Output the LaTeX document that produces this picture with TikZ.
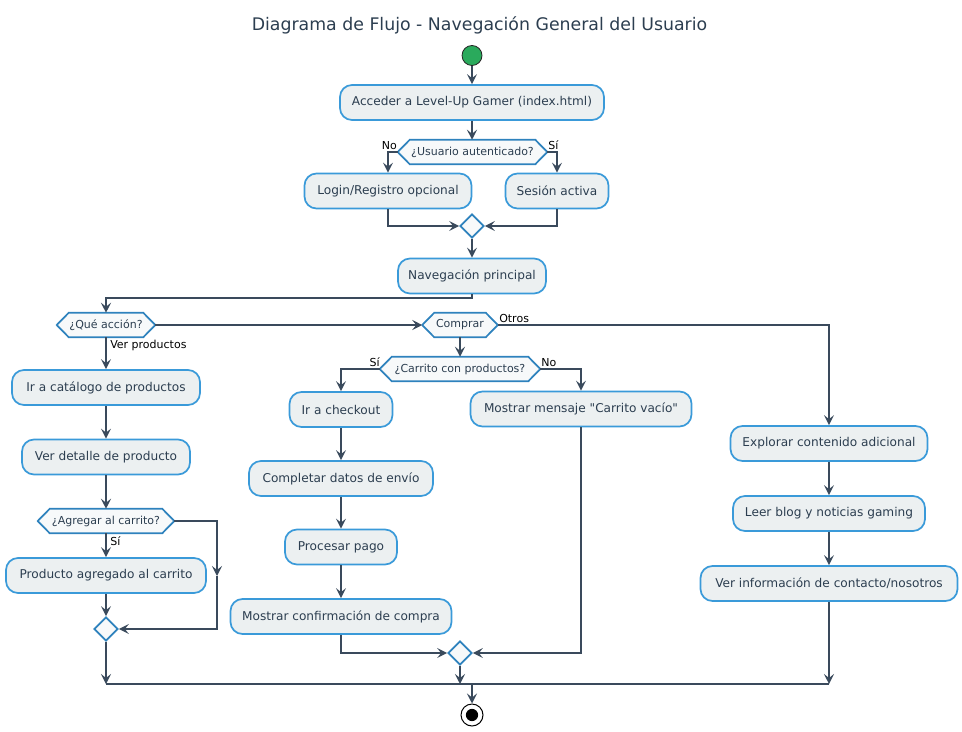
\documentclass[tikz,border=0pt]{standalone}
\usepackage{fontspec}
\setmainfont{DejaVu Sans}
\newfontfamily\qfont{DejaVu Sans}
\usetikzlibrary{arrows.meta,shapes.geometric,calc,backgrounds}
\definecolor{boxfill}{HTML}{ECF0F1}
\definecolor{boxline}{HTML}{3A9AD9}
\definecolor{hexline}{HTML}{2E82BD}
\definecolor{hexfill}{HTML}{F7F9FA}
\definecolor{txt}{HTML}{2C3E50}
\definecolor{arrline}{HTML}{3A4A5C}
\definecolor{startg}{HTML}{2AAA5C}
\begin{document}
\begin{tikzpicture}[x=0.75pt,y=-0.75pt,
  act/.style={draw=boxline, fill=boxfill, line width=1.3pt, rounded corners=9pt,
    minimum height=35*0.75pt, minimum width=#1*0.75pt, inner xsep=2pt, inner ysep=0pt,
    text=txt, font=\fontsize{9.1}{11}\selectfont},
  hexnode/.style={minimum height=24*0.75pt, minimum width=#1*0.75pt, inner sep=0pt,
    text=txt, font=\fontsize{8.25}{10}\selectfont},
  hexshape/.style={draw=hexline, fill=hexfill, line width=1.3pt, line join=miter},
  merge/.style={diamond, draw=hexline, fill=hexfill, line width=1.3pt, aspect=1,
    minimum width=24*0.75pt, minimum height=24*0.75pt, inner sep=0pt},
  lbl/.style={font=\fontsize{8.25}{10}\selectfont, text=black, inner sep=0pt},
  conn/.style={draw=arrline, line width=1.5pt},
  arr/.style={conn, -{Stealth[length=7.5pt,width=7.5pt,inset=3pt]}}
]
\useasboundingbox (0,0) rectangle (962,731);

% title
\node[anchor=base, text=txt, font=\fontsize{13}{15}\selectfont] (title) at (479.5,31)
  {Diagrama de Flujo - Navegación General del Usuario};

% start / end
\node[circle, draw=black!85, fill=startg, minimum size=20*0.75pt, inner sep=0pt, line width=0.6pt] (start) at (472,55.5) {};
\node[circle, draw=black, fill=white, minimum size=22*0.75pt, inner sep=0pt, line width=0.75pt,
  path picture={\fill[black] (path picture bounding box.center) circle (4.6pt);}] (end) at (472,715) {};

% top part
\node[act=264] (acc) at (472,102.5) {Acceder a Level-Up Gamer (index.html)};
\node[hexnode=149] (qauth) at (472.5,152) {¿Usuario autenticado?};
\node[act=167] (login) at (388,191) {Login/Registro opcional};
\node[act=103] (sesion) at (557,191) {Sesión activa};
\node[merge] (m1) at (472,226) {};
\node[act=148] (nav) at (472,276) {Navegación principal};

% decisions row
\node[hexnode=98] (qacc) at (106,325) {¿Qué acción?};
\node[hexnode=75] (comp) at (460,325) {Comprar};
\node[hexnode=160] (qcart) at (460,369) {¿Carrito con productos?};

% left column
\node[act=188] (cat) at (106,387.5) {Ir a catálogo de productos};
\node[act=168] (det) at (106,457) {Ver detalle de producto};
\node[hexnode=136] (qadd) at (106,521) {¿Agregar al carrito?};
\node[act=200] (prodag) at (106,575.5) {Producto agregado al carrito};
\node[merge] (m2) at (106,629) {};

% middle column
\node[act=103] (check) at (341,409.5) {Ir a checkout};
\node[act=184] (compl) at (341,478.5) {Completar datos de envío};
\node[act=112] (pago) at (341,547) {Procesar pago};
\node[act=221] (conf) at (341,616.5) {Mostrar confirmación de compra};
\node[act=221] (msg) at (581,409) {Mostrar mensaje {\qfont\symbol{34}}Carrito vacío{\qfont\symbol{34}}};
\node[merge] (m3) at (460,653) {};

% right column
\node[act=197] (expl) at (829,443.5) {Explorar contenido adicional};
\node[act=192] (blog) at (829,513.5) {Leer blog y noticias gaming};
\node[act=257] (info) at (829,583.5) {Ver información de contacto/nosotros};

% hexagon outlines
\begin{scope}[on background layer]
\foreach \n in {qauth,qacc,comp,qcart,qadd}{
  \filldraw[hexshape] (\n.west) -- ($(\n.north west)+(12,0)$) -- ($(\n.north east)+(-12,0)$)
    -- (\n.east) -- ($(\n.south east)+(-12,0)$) -- ($(\n.south west)+(12,0)$) -- cycle;
}
\end{scope}

% labels
\node[lbl, anchor=base east] (lno1) at (397,150) {No};
\node[lbl, anchor=base west] (lsi1) at (548,150) {Sí};
\node[lbl, anchor=base west] (lver) at (110,348) {Ver productos};
\node[lbl, anchor=base west] (lotr) at (499,322) {Otros};
\node[lbl, anchor=base east] (lsi2) at (380,366) {Sí};
\node[lbl, anchor=base west] (lno2) at (541,366) {No};
\node[lbl, anchor=base west] (lsi3) at (110,545) {Sí};

% helper coordinates
\coordinate (navdrop) at (472,298);
\coordinate (loopmid) at (217,576);
\coordinate (jl) at (106,684);
\coordinate (jm) at (460,684);
\coordinate (jc) at (472,684);
\coordinate (jr) at (829,684);

% connectors
\draw[arr] (start) -- (acc);
\draw[arr] (acc) -- (qauth.north -| acc);
\draw[arr] (qauth.west) -| (login.north);
\draw[arr] (qauth.east) -| (sesion.north);
\draw[arr] (login.south) |- (m1.west);
\draw[arr] (sesion.south) |- (m1.east);
\draw[arr] (m1.south) -- (nav.north);
\draw[arr] (nav.south) -- (navdrop) -| (qacc.north);
\draw[arr] (qacc.east) -- (comp.west);
\draw[arr] (comp.east) -| (expl.north);
\draw[arr] (comp.south) -- (qcart.north);
\draw[arr] (qcart.west) -| (check.north);
\draw[arr] (qcart.east) -| (msg.north);

\draw[arr] (qacc.south) -- (cat.north);
\draw[arr] (cat.south) -- (det.north);
\draw[arr] (det.south) -- (qadd.north);
\draw[arr] (qadd.south) -- (prodag.north);
\draw[arr] (prodag.south) -- (m2.north);
\draw[arr] (qadd.east) -| (loopmid);
\draw[arr] (loopmid) |- (m2.east);

\draw[arr] (check.south) -- (compl.north);
\draw[arr] (compl.south) -- (pago.north);
\draw[arr] (pago.south) -- (conf.north);
\draw[arr] (conf.south) |- (m3.west);
\draw[arr] (msg.south) |- (m3.east);

\draw[arr] (expl.south) -- (blog.north);
\draw[arr] (blog.south) -- (info.north);

\draw[arr] (m2.south) -- (jl);
\draw[arr] (m3.south) -- (jm);
\draw[arr] (info.south) -- (jr);
\draw[conn] (jl) -- (jr);
\draw[arr] (jc) -- (end.north);
\end{tikzpicture}
\end{document}
